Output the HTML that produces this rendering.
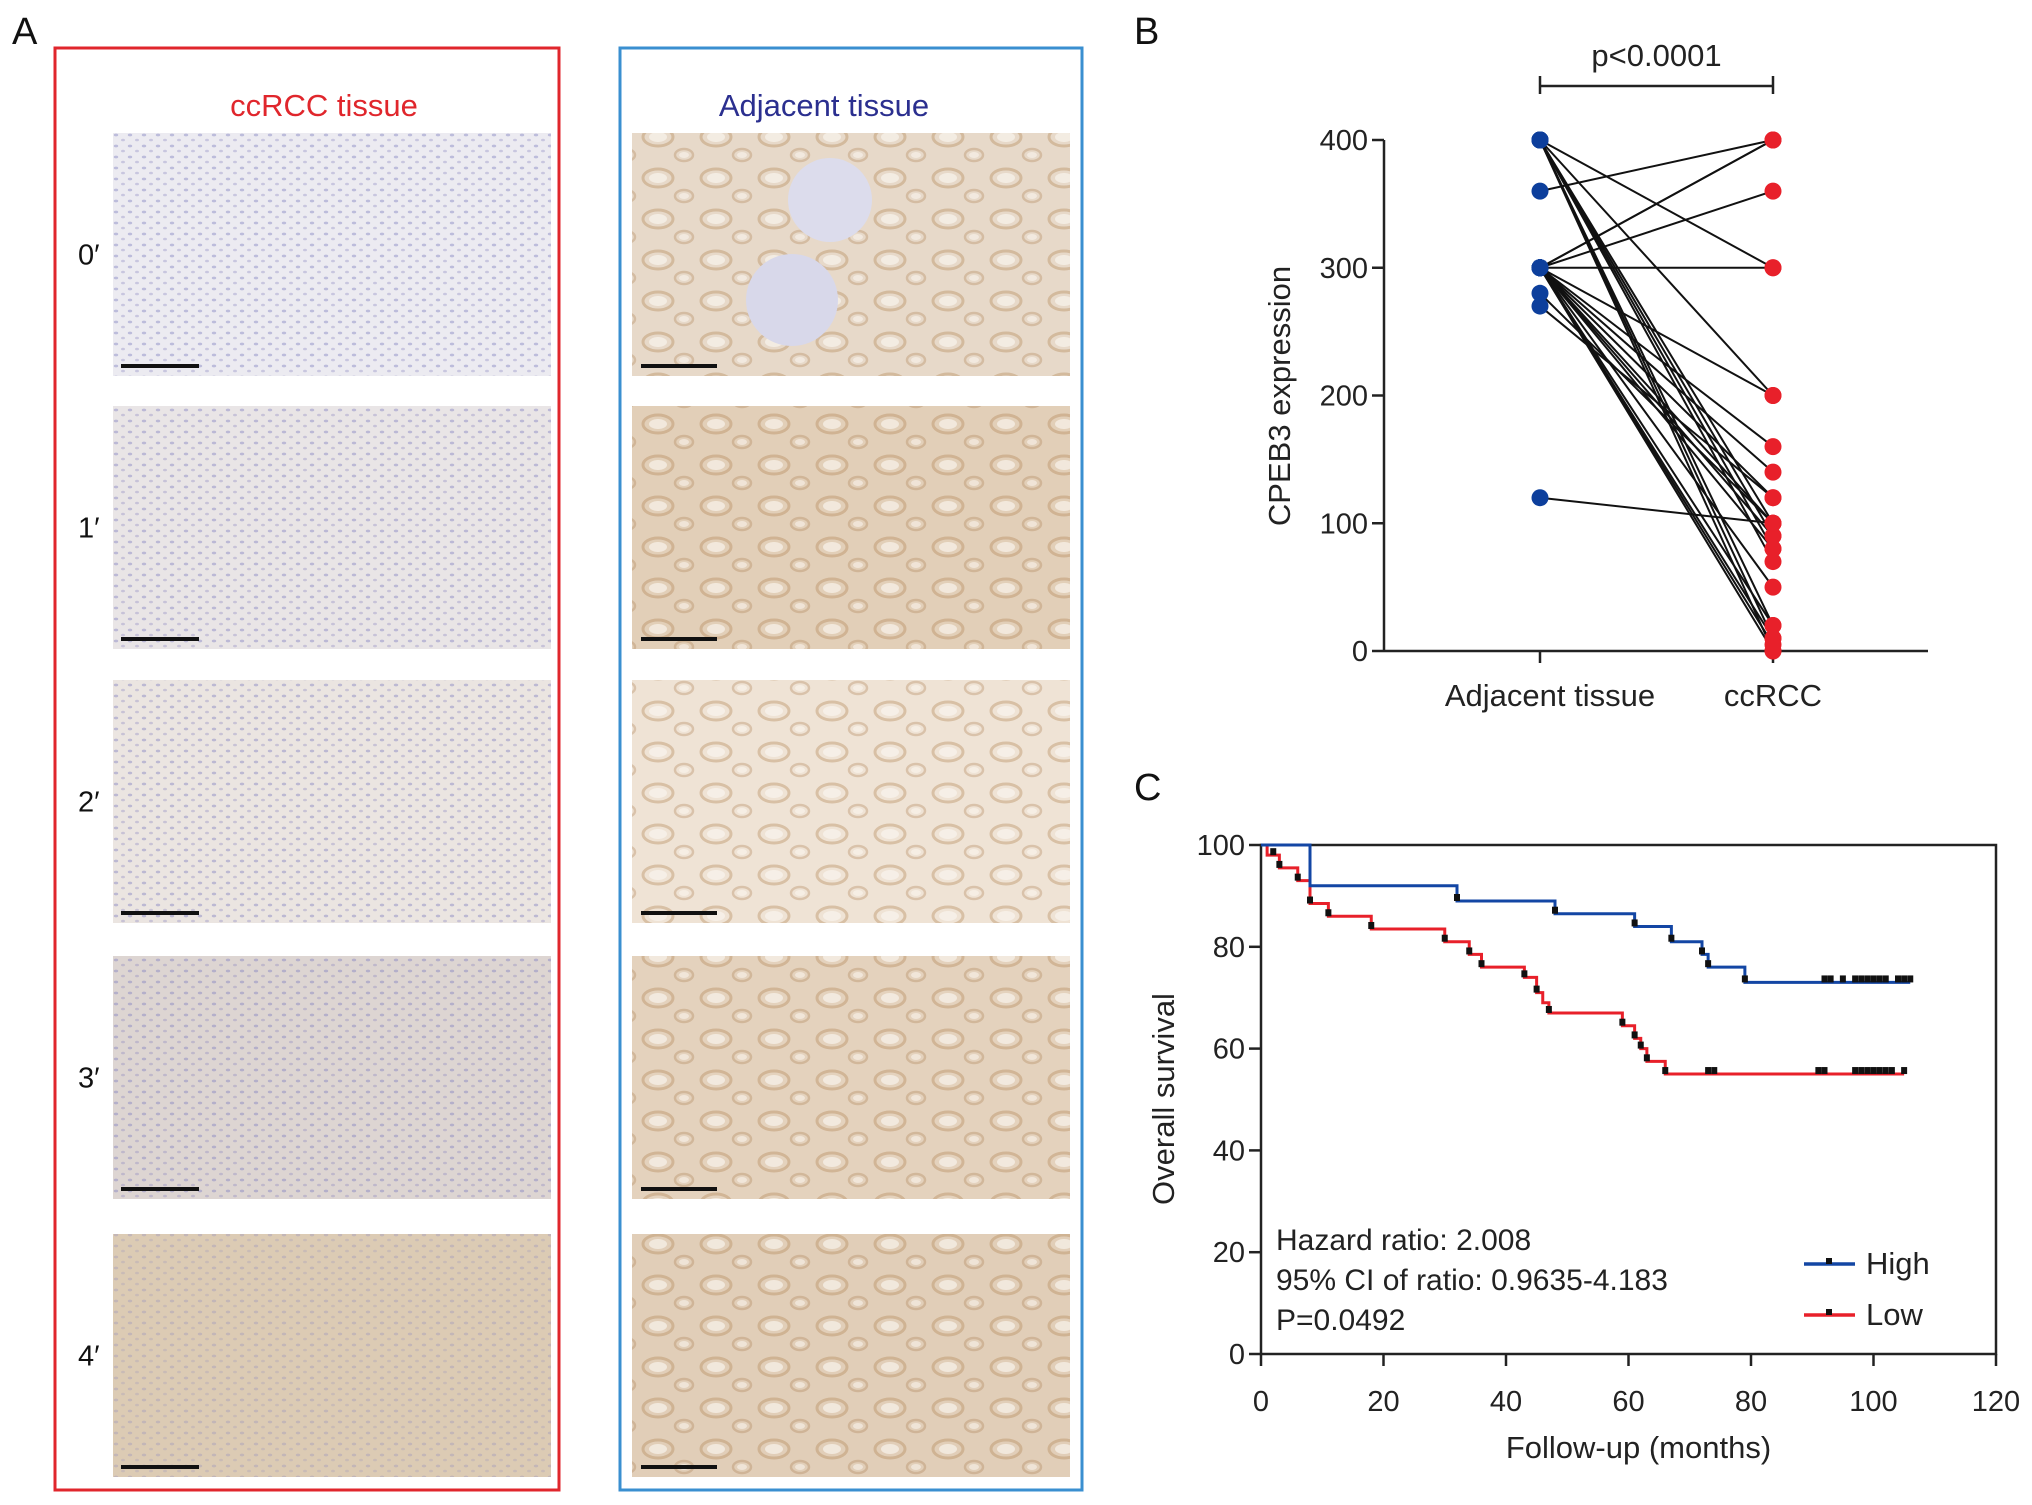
<!DOCTYPE html>
<html><head><meta charset="utf-8"><style>
html,body{margin:0;padding:0;background:#fff;}
svg{display:block;font-family:"Liberation Sans",Arial,sans-serif;}
</style></head><body>
<svg id="fig" width="2032" height="1505" viewBox="0 0 2032 1505" xmlns="http://www.w3.org/2000/svg">
<defs>
<pattern id="nucB" width="14" height="11" patternUnits="userSpaceOnUse"><rect width="14" height="11" fill="none"/><ellipse cx="4" cy="3" rx="2.2" ry="1.4" fill="#7f7fbf" opacity="0.55"/><ellipse cx="11" cy="8" rx="2" ry="1.3" fill="#8a86c0" opacity="0.45"/></pattern>
<pattern id="tub" width="58" height="41" patternUnits="userSpaceOnUse"><rect width="58" height="41" fill="none"/><ellipse cx="20" cy="14" rx="15" ry="9" fill="none" stroke="#b0824f" stroke-width="3" opacity="0.4"/><ellipse cx="20" cy="14" rx="9" ry="5" fill="#fbf7f2" opacity="0.7"/><ellipse cx="46" cy="32" rx="9" ry="6" fill="none" stroke="#a87c4c" stroke-width="2.5" opacity="0.35"/><ellipse cx="46" cy="32" rx="5" ry="3" fill="#fbf7f2" opacity="0.6"/></pattern>
</defs>
<g id="panelA"></g>
<g id="panelB"></g>
<g id="panelC"></g>
</svg>
<script>
const NS='http://www.w3.org/2000/svg';
function mk(parent,tag,attrs,text){const e=document.createElementNS(NS,tag);for(const k in attrs)e.setAttribute(k,attrs[k]);if(text!==undefined)e.textContent=text;parent.appendChild(e);return e;}

/* ---------- Panel A (histology grid) ---------- */
const rowLabels=['0′','1′','2′','3′','4′'];
const leftColors=['#ecebf1','#e9e5e6','#ebe5e1','#ddd5d2','#dccbb4'];
const rightColors=['#e7d9c9','#e2cfb8','#efe3d5','#e4d2bd','#e1ceb8'];
const A=document.getElementById('panelA');
let t=mk(A,'text',{x:12,y:44,'font-size':38,fill:'#111'},'A');

let r=mk(A,'rect',{x:55,y:48,width:504,height:1442,fill:'none',stroke:'#e0262c','stroke-width':3});

r=mk(A,'rect',{x:620,y:48,width:462,height:1442,fill:'none',stroke:'#3a8fd0','stroke-width':3});

t=mk(A,'text',{x:324,y:116,'font-size':31,fill:'#e0262c','text-anchor':'middle'},'ccRCC tissue');

t=mk(A,'text',{x:824,y:116,'font-size':31,fill:'#2b2f8f','text-anchor':'middle'},'Adjacent tissue');

const rowTops=[133,406,680,956,1234];
rowLabels.forEach((lab,i)=>{
  const y=rowTops[i],h=243;
  let l=mk(A,'text',{x:78,y:y+h/2+10,'font-size':29,fill:'#111'},lab);
  
  let im=mk(A,'rect',{x:113,y:y,width:438,height:h,fill:leftColors[i]});
  
  mk(A,'rect',{x:113,y:y,width:438,height:h,fill:'url(#nucB)',opacity:i===4?0.5:0.8});
  let sb=mk(A,'rect',{x:121,y:y+h-12,width:78,height:4,fill:'#111'});
  
  im=mk(A,'rect',{x:632,y:y,width:438,height:h,fill:rightColors[i]});
  
  mk(A,'rect',{x:632,y:y,width:438,height:h,fill:'url(#tub)',opacity:0.9});
  if(i===0){mk(A,'circle',{cx:830,cy:200,r:42,fill:'#dcdcec'});mk(A,'circle',{cx:792,cy:300,r:46,fill:'#d8d8ea'});}
  sb=mk(A,'rect',{x:641,y:y+h-12,width:76,height:4,fill:'#111'});
  
});

/* ---------- Panel B data ---------- */
const bGroups=['Adjacent tissue','ccRCC'];
const bTicks=[0,100,200,300,400];
const adjValues=[400,400,400,400,400,400,400,400,400,360,300,300,300,300,300,300,300,300,300,300,300,300,300,300,300,300,280,270,120];
const ccValues =[300,200,100,90,80,70,20,10,0,400,400,400,360,300,200,160,140,120,100,90,80,50,20,10,5,0,100,120,100];

const B=document.getElementById('panelB');
const bx0=1384,bx1=1928,by0=651,by1=140;
const byS=v=>by0-(v/400)*(by0-by1);
const bxS=i=>[1540,1773][i];
t=mk(B,'text',{x:1134,y:44,'font-size':38,fill:'#111'},'B');

let ax=mk(B,'line',{x1:bx0,y1:by1,x2:bx0,y2:by0,stroke:'#222','stroke-width':2.5});

ax=mk(B,'line',{x1:bx0,y1:by0,x2:bx1,y2:by0,stroke:'#222','stroke-width':2.5});

bTicks.forEach(v=>{
  mk(B,'line',{x1:bx0-12,y1:byS(v),x2:bx0,y2:byS(v),stroke:'#222','stroke-width':2.5});
  let tl=mk(B,'text',{x:bx0-16,y:byS(v)+10,'font-size':29,fill:'#222','text-anchor':'end'},String(v));
  
});
bGroups.forEach((g,i)=>{
  mk(B,'line',{x1:bxS(i),y1:by0,x2:bxS(i),y2:by0+12,stroke:'#222','stroke-width':2.5});
  let tl=mk(B,'text',{x:bxS(i)+(i?0:10),y:706,'font-size':31,fill:'#222','text-anchor':'middle'},g);
  
});
t=mk(B,'text',{x:0,y:0,'font-size':31,fill:'#222','text-anchor':'middle',transform:'translate(1290,396) rotate(-90)'},'CPEB3 expression');

adjValues.forEach((a,i)=>{
  let ln=mk(B,'line',{x1:bxS(0),y1:byS(a),x2:bxS(1),y2:byS(ccValues[i]),stroke:'#111','stroke-width':2});
  
});
adjValues.forEach(a=>{
  let c=mk(B,'circle',{cx:bxS(0),cy:byS(a),r:8.5,fill:'#0d3f9c'});
  
});
ccValues.forEach(v=>{
  let c=mk(B,'circle',{cx:bxS(1),cy:byS(v),r:8.5,fill:'#e8202a'});
  
});
let br=mk(B,'path',{d:`M${bxS(0)},76 V94 M${bxS(0)},86 H${bxS(1)} M${bxS(1)},76 V94`,fill:'none',stroke:'#222','stroke-width':2.5});

t=mk(B,'text',{x:(bxS(0)+bxS(1))/2,y:66,'font-size':31,fill:'#222','text-anchor':'middle'},'p<0.0001');


/* ---------- Panel C data ---------- */
const cXTicks=[0,20,40,60,80,100,120];
const cYTicks=[0,20,40,60,80,100];
const highTimes=[0,8,32,48,61,67,72,73,79,106];
const highSurv=[100,92,89,86.5,84,81,78.5,76,73,73];
const highCensor=[32,48,61,67,72,73,79,92,93,95,97,98,99,100,101,102,104,105,106];
const lowTimes=[0,1,3,6,8,11,18,30,34,36,43,45,46,47,59,61,62,63,66,105];
const lowSurv=[100,98,95.5,93,88.5,86,83.5,81,78.5,76,74,71,69,67,64.5,62,60,57.5,55,55];
const lowCensor=[2,3,6,8,11,18,30,34,36,43,45,47,59,61,62,63,66,73,74,91,92,97,98,99,100,101,102,103,105];

const C=document.getElementById('panelC');
const cx0=1261,cx1=1996,cy0=1354,cy1=845;
const cxS=v=>cx0+(v/120)*(cx1-cx0);
const cyS=v=>cy0-(v/100)*(cy0-cy1);
t=mk(C,'text',{x:1134,y:800,'font-size':38,fill:'#111'},'C');

let frame=mk(C,'rect',{x:cx0,y:cy1,width:cx1-cx0,height:cy0-cy1,fill:'none',stroke:'#222','stroke-width':2.5});

cXTicks.forEach(v=>{
  mk(C,'line',{x1:cxS(v),y1:cy0,x2:cxS(v),y2:cy0+12,stroke:'#222','stroke-width':2.5});
  let tl=mk(C,'text',{x:cxS(v),y:1411,'font-size':29,fill:'#222','text-anchor':'middle'},String(v));
  
});
cYTicks.forEach(v=>{
  mk(C,'line',{x1:cx0-12,y1:cyS(v),x2:cx0,y2:cyS(v),stroke:'#222','stroke-width':2.5});
  let tl=mk(C,'text',{x:cx0-16,y:cyS(v)+10,'font-size':29,fill:'#222','text-anchor':'end'},String(v));
  
});
t=mk(C,'text',{x:(cx0+cx1)/2+10,y:1458,'font-size':31,fill:'#222','text-anchor':'middle'},'Follow-up (months)');

t=mk(C,'text',{x:0,y:0,'font-size':31,fill:'#222','text-anchor':'middle',transform:'translate(1174,1099) rotate(-90)'},'Overall survival');

function stepPath(ts,ss){let d=`M${cxS(ts[0])},${cyS(ss[0])}`;for(let i=1;i<ts.length;i++){d+=` H${cxS(ts[i])} V${cyS(ss[i])}`;}return d;}
function survAt(ts,ss,x){let s=ss[0];for(let i=0;i<ts.length;i++){if(ts[i]<=x)s=ss[i];}return s;}
let p=mk(C,'path',{d:stepPath(lowTimes,lowSurv),fill:'none',stroke:'#e8202a','stroke-width':3});

p=mk(C,'path',{d:stepPath(highTimes,highSurv),fill:'none',stroke:'#1346a4','stroke-width':3});

highCensor.forEach(x=>{let m=mk(C,'rect',{x:cxS(x)-3,y:cyS(survAt(highTimes,highSurv,x))-7,width:6,height:7,fill:'#111'});
  });
lowCensor.forEach(x=>{let m=mk(C,'rect',{x:cxS(x)-3,y:cyS(survAt(lowTimes,lowSurv,x))-7,width:6,height:7,fill:'#111'});
  });
const annot=['Hazard ratio: 2.008','95% CI of ratio: 0.9635-4.183','P=0.0492'];
annot.forEach((s,i)=>{let a=mk(C,'text',{x:1276,y:1250+i*40,'font-size':30,fill:'#222'},s);
  });
[['High','#1346a4',1264],['Low','#e8202a',1315]].forEach(([n,c,y])=>{
  let g=mk(C,'g',{});
  mk(g,'line',{x1:1804,y1:y,x2:1855,y2:y,stroke:c,'stroke-width':3.5});
  mk(g,'rect',{x:1826,y:y-6,width:6,height:6,fill:'#111'});
  mk(g,'text',{x:1866,y:y+10,'font-size':31,fill:'#222'},n);
});
</script>
</body></html>
